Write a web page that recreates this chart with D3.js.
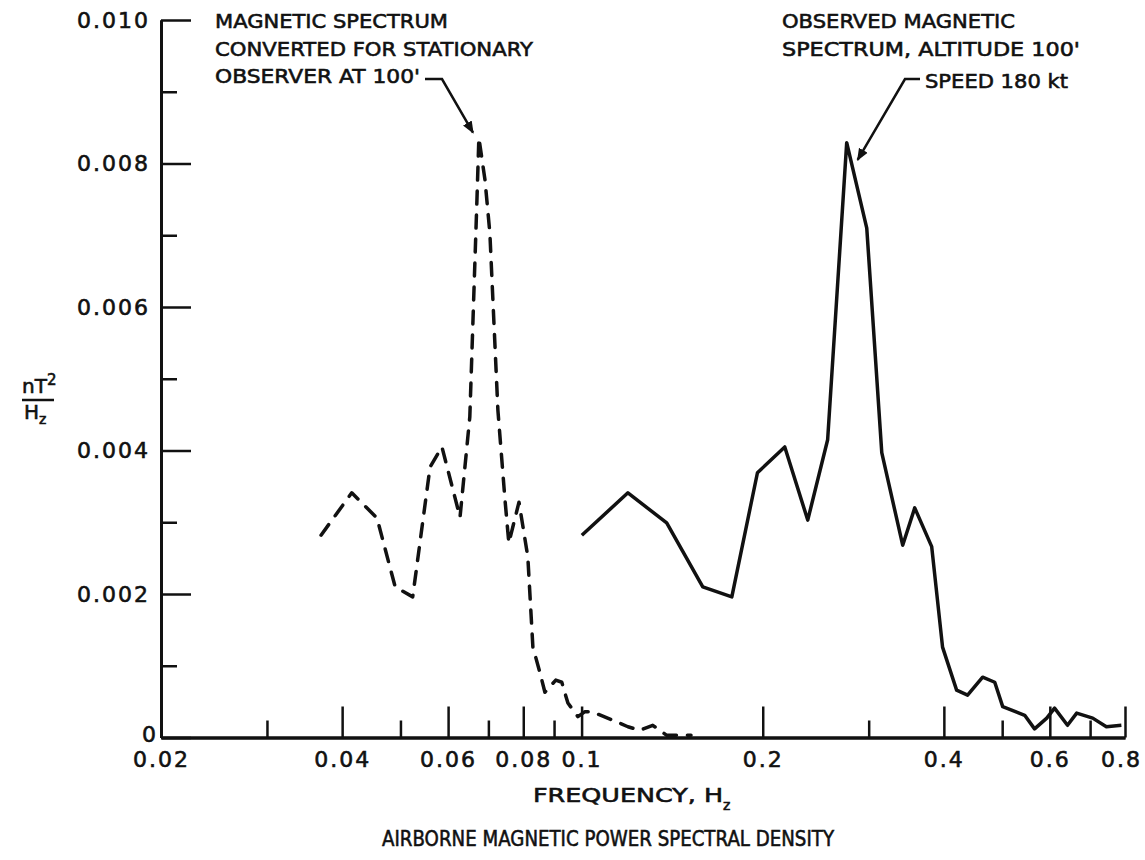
<!DOCTYPE html>
<html>
<head>
<meta charset="utf-8">
<script src="https://cdn.jsdelivr.net/npm/d3@7"></script>
<style>
  body { margin: 0; background: #fff; }
  svg text { font-family: "DejaVu Sans", sans-serif; fill: #111; stroke: #111; stroke-width: 0.6px; }
</style>
</head>
<body>
<script>
// ---- data ----
// dashed: spectrum converted for stationary observer
var convFreq = [0.0369, 0.0415, 0.0457, 0.0490, 0.0524, 0.0560, 0.0586, 0.0628, 0.0652, 0.0670, 0.0675,
  0.0691, 0.0704, 0.0726, 0.0746, 0.0757, 0.0787, 0.0814, 0.0830, 0.0853, 0.0869, 0.0906, 0.0927,
  0.0949, 0.0986, 0.1013, 0.104, 0.1127, 0.1194, 0.125, 0.1313, 0.1385, 0.152];
var convPsd = [0.00282, 0.00341, 0.00306, 0.00210, 0.00196, 0.00377, 0.00405, 0.00307, 0.00447, 0.00749, 0.00836,
  0.00777, 0.00703, 0.00456, 0.00331, 0.00271, 0.00328, 0.00252, 0.00126, 0.00090, 0.00063, 0.00080, 0.00077,
  0.00048, 0.00029, 0.00036, 0.00036, 0.00024, 0.00015, 0.00010, 0.00017, 0.00003, 0.00003];

// solid: observed spectrum, altitude 100', 180 kt
var obsFreq = [0.1001, 0.1194, 0.1385, 0.159, 0.1777, 0.196, 0.2176, 0.2376, 0.2564, 0.2758, 0.2978, 0.3154,
  0.3417, 0.3578, 0.3818, 0.398, 0.420, 0.438, 0.464, 0.486, 0.501, 0.545, 0.566, 0.593, 0.611, 0.642,
  0.665, 0.707, 0.745, 0.789];
var obsPsd = [0.00282, 0.00341, 0.00299, 0.00210, 0.00196, 0.00369, 0.00405, 0.00303, 0.00415, 0.00829, 0.00710, 0.00397,
  0.00268, 0.00320, 0.00266, 0.00126, 0.00066, 0.00059, 0.00084, 0.00077, 0.00043, 0.00031, 0.00012, 0.00027, 0.00041, 0.00017,
  0.00034, 0.00027, 0.00015, 0.00017];

var xMajor = [0.02, 0.04, 0.06, 0.08, 0.1, 0.2, 0.4, 0.6, 0.8];
var xMinor = [0.03, 0.05, 0.07, 0.09, 0.3, 0.5, 0.7];
var yMajor = [0, 0.002, 0.004, 0.006, 0.008, 0.010];
var yMinor = [0.001, 0.003, 0.005, 0.007, 0.009];

var noteLeft = ["MAGNETIC SPECTRUM", "CONVERTED FOR STATIONARY", "OBSERVER AT 100'"];
var noteRight = ["OBSERVED MAGNETIC", "SPECTRUM, ALTITUDE 100'", "SPEED 180 kt"];
var title = "AIRBORNE MAGNETIC POWER SPECTRAL DENSITY";

/*==================== SETUP ====================*/
var W = 1145, H = 860;
var padL = 161, padR = 1125, padT = 20, padB = 737.5;

var svg = d3.select("body").append("svg")
    .attr("width", W)
    .attr("height", H);

var x = d3.scaleLog().domain([0.02, 0.8]).range([padL, padR]);
var y = d3.scaleLinear().domain([0, 0.010]).range([padB, padT]);

svg.append("defs").append("marker")
    .attr("id", "arr")
    .attr("viewBox", "0 0 10 10")
    .attr("refX", 9).attr("refY", 5)
    .attr("markerWidth", 5).attr("markerHeight", 5)
    .attr("orient", "auto")
  .append("path")
    .attr("d", "M0,1 L10,5 L0,9 Z")
    .attr("fill", "#111");

/*==================== AXES ====================*/
var xAxisMajor = d3.axisBottom(x).tickValues(xMajor).tickSize(-31).tickSizeOuter(0)
    .tickPadding(14).tickFormat(function(d){ return String(d); });
var xAxisMinor = d3.axisBottom(x).tickValues(xMinor).tickSize(-17).tickSizeOuter(0).tickFormat("");

var gx = svg.append("g").attr("transform", "translate(0," + padB + ")").call(xAxisMajor);
svg.append("g").attr("transform", "translate(0," + padB + ")").call(xAxisMinor);

var yAxisMajor = d3.axisLeft(y).tickValues(yMajor).tickSize(-30).tickSizeOuter(0)
    .tickPadding(11).tickFormat(function(d){ return d === 0 ? "0" : d3.format(".3f")(d); });
var yAxisMinor = d3.axisLeft(y).tickValues(yMinor).tickSize(-16).tickSizeOuter(0).tickFormat("");

var gy = svg.append("g").attr("transform", "translate(" + padL + ",0)").call(yAxisMajor);
svg.append("g").attr("transform", "translate(" + padL + ",0)").call(yAxisMinor);

svg.selectAll(".domain").attr("stroke", "#111").attr("stroke-width", 3);
svg.selectAll(".tick line").attr("stroke", "#111").attr("stroke-width", 2.5);
svg.selectAll(".tick text")
    .attr("font-family", "DejaVu Sans")
    .attr("font-size", 22)
    .attr("letter-spacing", 2)
    .attr("fill", "#111");
// the "0" sits close in to the origin, the last x label is pulled in a little
gy.selectAll(".tick text").filter(function(d){ return d === 0; }).attr("x", -3).attr("dy", "0.2em");
gx.selectAll(".tick text").filter(function(d){ return d === 0.8; }).attr("dx", -4);

/*==================== CURVES ====================*/
var conv = convFreq.map(function(f, i){ return {f: f, v: convPsd[i]}; });
var obs = obsFreq.map(function(f, i){ return {f: f, v: obsPsd[i]}; });

var line = d3.line()
    .x(function(d){ return x(d.f); })
    .y(function(d){ return y(d.v); });

svg.append("path")
    .datum(conv)
    .attr("d", line)
    .attr("fill", "none")
    .attr("stroke", "#111")
    .attr("stroke-width", 3.5)
    .attr("stroke-dasharray", "13,11")
    .attr("stroke-linecap", "round")
    .attr("stroke-linejoin", "round");

svg.append("path")
    .datum(obs)
    .attr("d", line)
    .attr("fill", "none")
    .attr("stroke", "#111")
    .attr("stroke-width", 3.5)
    .attr("stroke-linejoin", "round");

/*==================== LABELS ====================*/
var noteWidthsL = [233, 318, 205];
var noteWidthsR = [233, 298, 143];

noteLeft.forEach(function(t, i){
  svg.append("text")
    .attr("x", 215).attr("y", 28 + i * 27.5)
    .attr("font-size", 20)
    .attr("textLength", noteWidthsL[i]).attr("lengthAdjust", "spacingAndGlyphs")
    .text(t);
});
noteRight.forEach(function(t, i){
  svg.append("text")
    .attr("x", i < 2 ? 782 : 925).attr("y", i < 2 ? 28 + i * 27.5 : 88)
    .attr("font-size", 20)
    .attr("textLength", noteWidthsR[i]).attr("lengthAdjust", "spacingAndGlyphs")
    .text(t);
});

// leaders with arrows, pointing at the two peaks
svg.append("path")
    .attr("d", "M425,79 L442,79 L" + x(0.066) + "," + y(0.00843))
    .attr("fill", "none").attr("stroke", "#111").attr("stroke-width", 2.5)
    .attr("marker-end", "url(#arr)");
svg.append("path")
    .attr("d", "M920,79 L905,79 L" + x(0.2876) + "," + y(0.00805))
    .attr("fill", "none").attr("stroke", "#111").attr("stroke-width", 2.5)
    .attr("marker-end", "url(#arr)");

// y label: nT^2 / Hz
var yl = svg.append("g");
var t1 = yl.append("text").attr("x", 22).attr("y", 393).attr("font-size", 20);
t1.append("tspan").text("nT");
t1.append("tspan").attr("dy", -8).attr("font-size", 15).text("2");
yl.append("line").attr("x1", 22).attr("x2", 54).attr("y1", 400).attr("y2", 400)
    .attr("stroke", "#111").attr("stroke-width", 2.5);
var t2 = yl.append("text").attr("x", 24).attr("y", 419).attr("font-size", 20);
t2.append("tspan").text("H");
t2.append("tspan").attr("dy", 5).attr("font-size", 14).text("z");

// x label
var xl = svg.append("text").attr("x", 533).attr("y", 802).attr("font-size", 20);
xl.append("tspan").attr("textLength", 190).attr("lengthAdjust", "spacingAndGlyphs").text("FREQUENCY, H");
xl.append("tspan").attr("dy", 8).attr("font-size", 14).text("z");

svg.append("text")
    .attr("x", 382).attr("y", 846)
    .attr("font-size", 21)
    .attr("textLength", 452).attr("lengthAdjust", "spacingAndGlyphs")
    .text(title);
</script>
</body>
</html>
